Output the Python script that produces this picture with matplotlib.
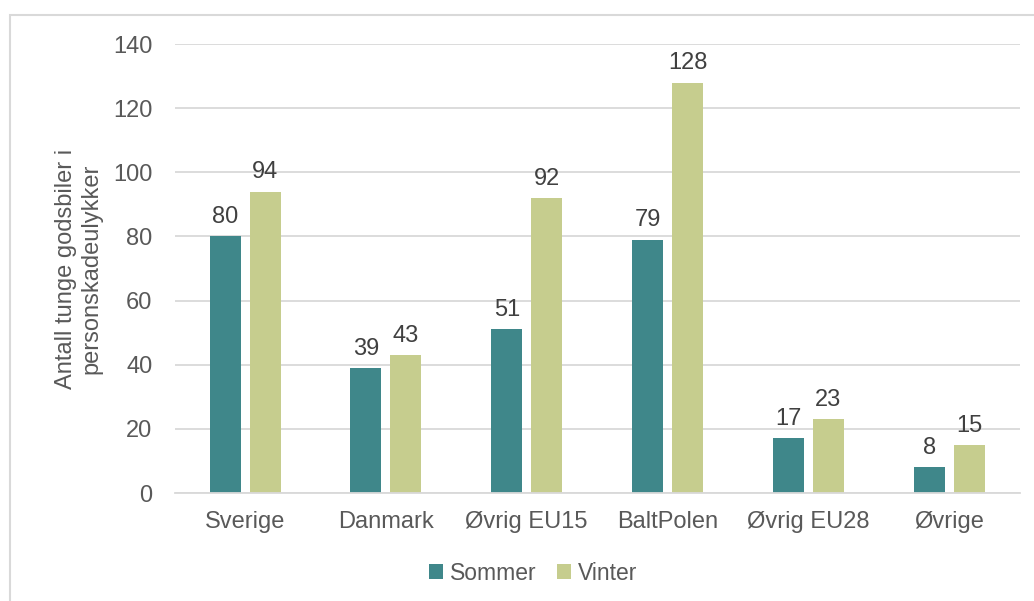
import numpy as np
import matplotlib.pyplot as plt
from matplotlib.patches import Rectangle

categories = ['Sverige', 'Danmark', 'Øvrig EU15', 'BaltPolen', 'Øvrig EU28', 'Øvrige']
sommer = [80, 39, 51, 79, 17, 8]
vinter = [94, 43, 92, 128, 23, 15]

teal = '#3F878A'
green = '#C6CD8E'
txt = '#595959'
fs = 17

plt.rcParams['font.family'] = ['Liberation Sans', 'DejaVu Sans']

fig = plt.figure(figsize=(10.34, 6.01), dpi=100)
ax = fig.add_axes([0.169, 0.1797, 0.817, 0.747])

x = np.arange(len(categories))
w = 0.22
b1 = ax.bar(x - w / 2 - 0.032, sommer, w, color=teal, label='Sommer')
b2 = ax.bar(x + w / 2 + 0.032, vinter, w, color=green, label='Vinter')

for bars in (b1, b2):
    for r in bars:
        ax.annotate(f'{r.get_height():.0f}', (r.get_x() + r.get_width() / 2, r.get_height()),
                    xytext=(0, 6), textcoords='offset points', ha='center', va='bottom',
                    fontsize=fs, color='#404040')

ax.set_xlim(-0.5, len(categories) - 0.5)
ax.set_ylim(0, 140)
ax.set_yticks(range(0, 141, 20))
ax.set_xticks(x)
ax.set_xticklabels(categories)
ax.tick_params(length=0, labelsize=fs, labelcolor=txt, pad=13)
ax.tick_params(axis='y', pad=16)
ax.grid(axis='y', color='#D9D9D9', linewidth=1.3)
ax.set_axisbelow(True)
for s in ['top', 'right', 'left']:
    ax.spines[s].set_visible(False)
ax.spines['bottom'].set_color('#D9D9D9')
ax.spines['bottom'].set_linewidth(1.3)

ax.set_ylabel('Antall tunge godsbiler i\npersonskadeulykker', fontsize=fs, color=txt,
              labelpad=8, linespacing=1.15)

fig.legend(loc='center', bbox_to_anchor=(533 / 1034, 1 - 573 / 601), ncol=2, frameon=False,
           fontsize=16.5, labelcolor=txt, handlelength=0.6, handleheight=0.6, handletextpad=0.3,
           columnspacing=0.9)

fig.patches.append(Rectangle((10 / 1034, -0.1), 1.2, 1 - 15 / 601 + 0.1, transform=fig.transFigure,
                             fill=False, edgecolor='#D9D9D9', linewidth=1.5))

fig.savefig('out.png', dpi=100)
